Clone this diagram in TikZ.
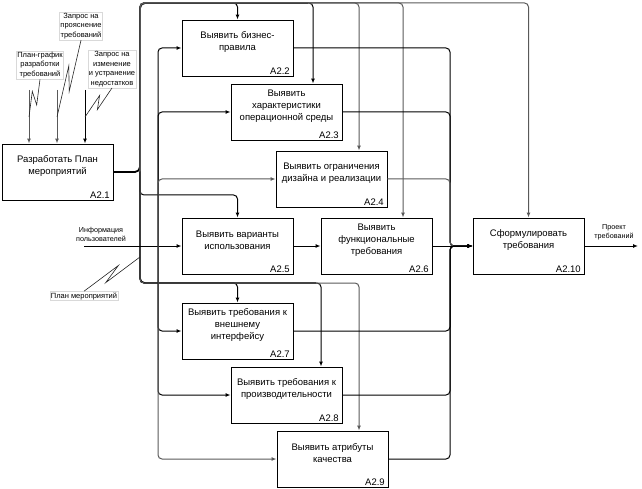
\documentclass[tikz,border=0pt]{standalone}
\usepackage{fontspec}
\setmainfont{Liberation Sans}
\usetikzlibrary{arrows.meta,calc}

\tikzset{
  fbox/.style={draw, line width=0.9pt, minimum width=111pt, minimum height=56pt, inner sep=0pt},
  ftext/.style={align=center, font=\fontsize{9.5}{11.8}\selectfont, inner sep=0pt},
  fnum/.style={anchor=south east, font=\fontsize{9.5}{11}\selectfont, inner sep=2pt, xshift=-1.5pt},
  note/.style={align=center, font=\fontsize{7.5}{9.6}\selectfont, fill=white, draw=gray!30, line width=0.4pt, inner sep=1pt},
  note0/.style={align=center, font=\fontsize{7.2}{9}\selectfont, inner sep=1pt},
  arr/.style={line width=1pt, rounded corners=4pt, -{Latex[length=5pt,width=4pt]}},
  arrg/.style={arr, draw=gray!70!black},
  trunk/.style={line width=1.8pt, rounded corners=5pt},
  squig/.style={line width=0.6pt, draw=black!85},
}

\begin{document}
\begin{tikzpicture}[x=1pt,y=-1pt]
\useasboundingbox (0,0) rectangle (642,489);

% boxes
\node[fbox] (a21) at (57.5,172) {};
\node[ftext] (a21t) at ([yshift=6pt]a21.center) {Разработать План\\мероприятий};
\node[fnum] (a21n) at (a21.south east) {A2.1};

\node[fbox] (a22) at (237.5,48) {};
\node[ftext] (a22t) at ([yshift=6pt]a22.center) {Выявить бизнес-\\правила};
\node[fnum] (a22n) at (a22.south east) {A2.2};

\node[fbox] (a23) at (286.5,112) {};
\node[ftext] (a23t) at ([yshift=6pt]a23.center) {Выявить\\характеристики\\операционной среды};
\node[fnum] (a23n) at (a23.south east) {A2.3};

\node[fbox] (a24) at (331.5,179) {};
\node[ftext] (a24t) at ([yshift=6pt]a24.center) {Выявить ограничения\\дизайна и реализации};
\node[fnum] (a24n) at (a24.south east) {A2.4};

\node[fbox] (a25) at (237.5,246) {};
\node[ftext] (a25t) at ([yshift=6pt]a25.center) {Выявить варианты\\использования};
\node[fnum] (a25n) at (a25.south east) {A2.5};

\node[fbox] (a26) at (376.5,246) {};
\node[ftext] (a26t) at ([yshift=6pt]a26.center) {Выявить\\функциональные\\требования};
\node[fnum] (a26n) at (a26.south east) {A2.6};

\node[fbox] (a210) at (528.5,246) {};
\node[ftext] (a210t) at ([yshift=6pt]a210.center) {Сформулировать\\требования};
\node[fnum] (a210n) at (a210.south east) {A2.10};

\node[fbox] (a27) at (237.5,331) {};
\node[ftext] (a27t) at ([yshift=6pt]a27.center) {Выявить требования к\\внешнему\\интерфейсу};
\node[fnum] (a27n) at (a27.south east) {A2.7};

\node[fbox] (a28) at (286.5,395) {};
\node[ftext] (a28t) at ([yshift=6pt]a28.center) {Выявить требования к\\производительности};
\node[fnum] (a28n) at (a28.south east) {A2.8};

\node[fbox] (a29) at (332.5,459) {};
\node[ftext] (a29t) at ([yshift=6pt]a29.center) {Выявить атрибуты\\качества};
\node[fnum] (a29n) at (a29.south east) {A2.9};

% controls of A2.1
\coordinate (c1) at (29,90);
\coordinate (c2) at (57,90);
\coordinate (c3) at (85,90);
\draw[arrg] (c1) -- (c1 |- a21.north);
\draw[arrg] (c2) -- (c2 |- a21.north);
\draw[arr] (c3) -- (c3 |- a21.north);

\node[note] (plan) at (40,65) {План-график\\разработки\\требований};
\node[note] (zap1) at (81,26) {Запрос на\\прояснение\\требований};
\node[note] (zap2) at (112,69) {Запрос на\\изменение\\и устранение\\недостатков};

\coordinate (s1) at (29,117);
\coordinate (s2) at (57,117);
\coordinate (s3) at (85,117);
\draw[squig] (plan.south) -- ($(plan.south)!0.65!(s1)!4pt!90:(s1)$) -- ($(plan.south)!0.35!(s1)!4pt!-90:(s1)$) -- (s1);
\draw[squig] (zap1.south) -- ($(zap1.south)!0.65!(s2)!4pt!90:(s2)$) -- ($(zap1.south)!0.35!(s2)!4pt!-90:(s2)$) -- (s2);
\draw[squig] (zap2.south) -- ($(zap2.south)!0.65!(s3)!4pt!90:(s3)$) -- ($(zap2.south)!0.35!(s3)!4pt!-90:(s3)$) -- (s3);

% output of A2.1 (plan) as controls
\coordinate (br) at (140,172);
\draw[trunk] (a21.east) -- (br) -- (140,3) -- (308,3);
\draw[trunk, line width=1.4pt] (br) -- (140,283) -- (316,283);

\draw[arr] (br) -- (140,3) -| (a22.north);
\draw[arr] (br) -- (140,3) -| ([xshift=26.5pt]a23.north);
\draw[arrg] (br) -- (140,3) -| ([xshift=27.5pt]a24.north);
\draw[arrg] (br) -- (140,3) -| ([xshift=26.5pt]a26.north);
\draw[arrg] (br) -- (140,3) -| (a210.north);
\draw[arr] (br) -- (140,195) -| (a25.north);
\draw[arr] (br) -- (140,283) -| (a27.north);
\draw[arr] (br) -- (140,283) -| ([xshift=34.5pt]a28.north);
\draw[arrg] (br) -- (140,283) -| ([xshift=26.5pt]a29.north);

\node[note] (planm) at (84,296) {План мероприятий};
\coordinate (s5) at (140,257);
\draw[squig] (planm.north) -- ($(planm.north)!0.65!(s5)!4pt!90:(s5)$) -- ($(planm.north)!0.35!(s5)!4pt!-90:(s5)$) -- (s5);

% input
\node[note0] (info) at (101,234) {Информация\\пользователей};
\coordinate (inp) at (84,246);
\draw[arr] (inp) -- (a25.west);
\coordinate (jin) at (158,246);
\foreach \b/\c in {a22/black, a23/black, a24/gray!70!black, a27/black, a28/black, a29/gray!70!black}
  \draw[arr, draw=\c] (jin) |- (\b.west);

% outputs to A2.10
\draw[arr] (a25.east) -- (a26.west);
\coordinate (jout) at (450,246);
\foreach \b/\c in {a22/black, a23/black, a24/gray!70!black, a27/black, a28/black, a29/black}
  \draw[arr, draw=\c] (\b.east) -| (jout) -- (a210.west);
\draw[arr] (a26.east) -- (a210.west);

% output
\coordinate (outp) at (638,246);
\draw[arr] (a210.east) -- (outp);
\node[note0] (proj) at (614,232) {Проект\\требований};
\end{tikzpicture}
\end{document}
